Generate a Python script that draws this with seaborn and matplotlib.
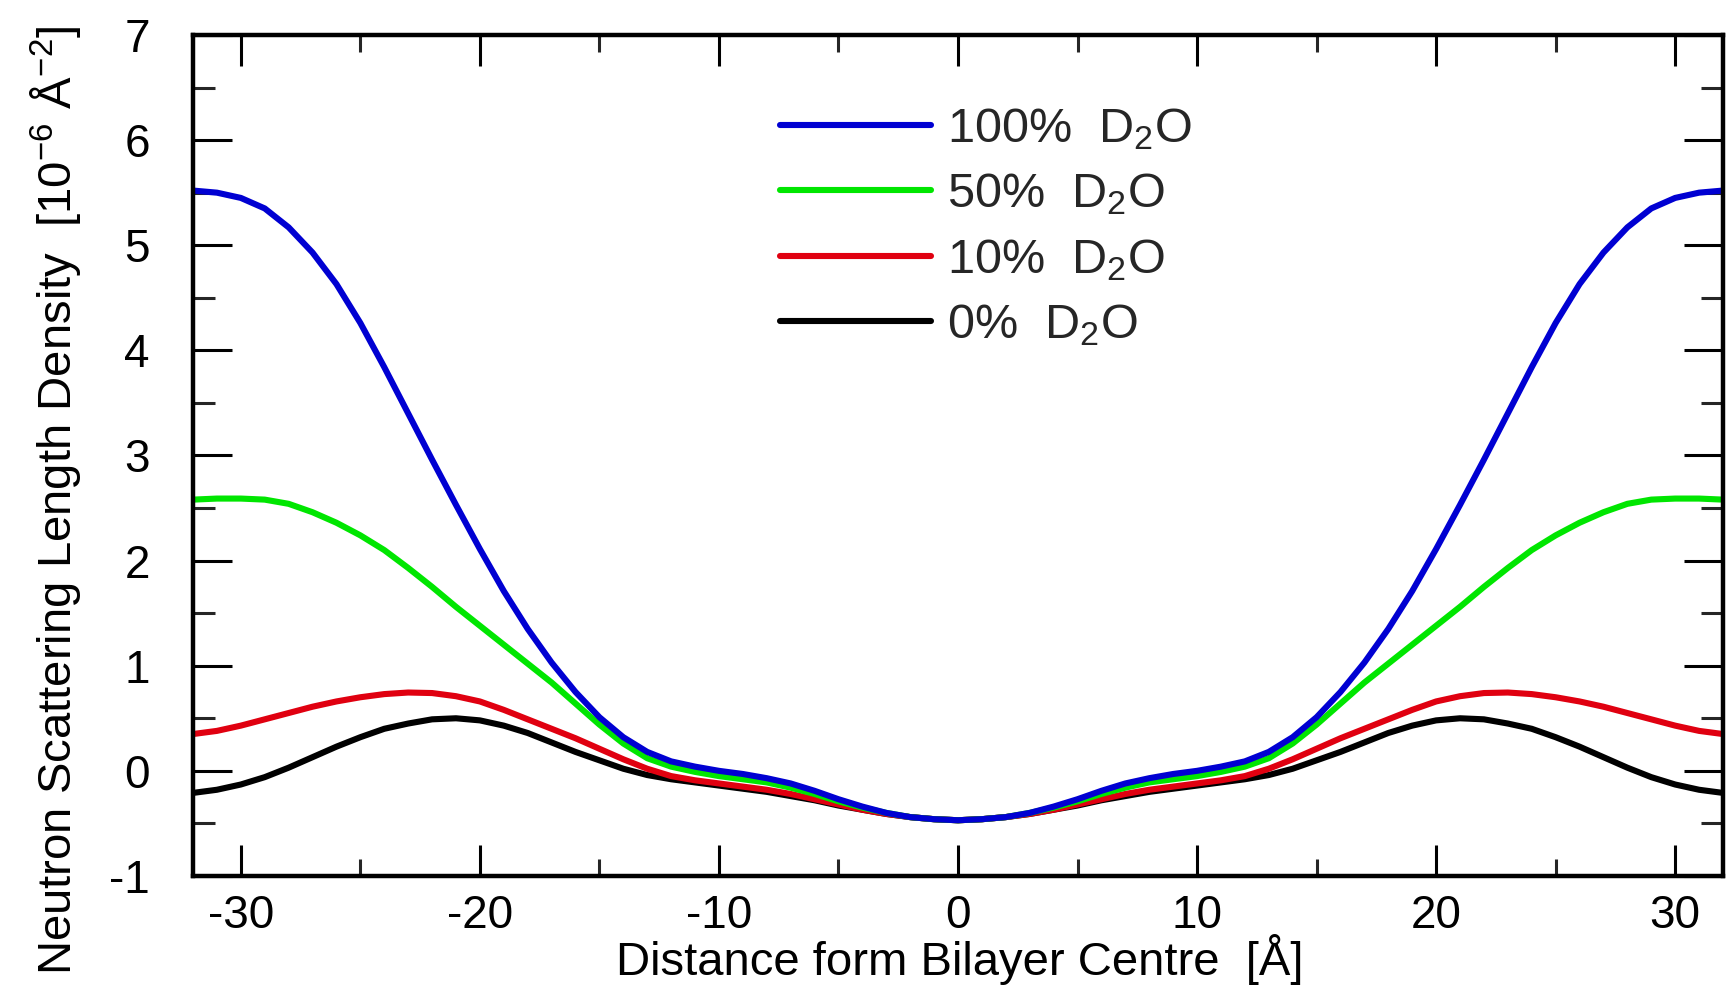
import numpy as np
import pandas as pd
import matplotlib
matplotlib.use("Agg")
import matplotlib.pyplot as plt
import seaborn as sns

# ---------------- data ----------------
distance = list(range(-32, 33))  # Å

sld_100 = [5.52, 5.50, 5.45, 5.35, 5.17, 4.93, 4.63, 4.26, 3.84, 3.40, 2.96,
           2.53, 2.11, 1.71, 1.35, 1.03, 0.75, 0.51, 0.32, 0.18, 0.09, 0.04,
           0.00, -0.03, -0.07, -0.12, -0.19, -0.27, -0.34, -0.40, -0.44, -0.46,
           -0.47,
           -0.46, -0.44, -0.40, -0.34, -0.27, -0.19, -0.12, -0.07, -0.03, 0.00,
           0.04, 0.09, 0.18, 0.32, 0.51, 0.75, 1.03, 1.35, 1.71, 2.11, 2.53,
           2.96, 3.40, 3.84, 4.26, 4.63, 4.93, 5.17, 5.35, 5.45, 5.50, 5.52]

sld_50 = [2.58, 2.59, 2.59, 2.58, 2.54, 2.46, 2.36, 2.24, 2.10, 1.93, 1.75,
          1.56, 1.38, 1.20, 1.02, 0.84, 0.64, 0.44, 0.26, 0.12, 0.04, -0.01,
          -0.05, -0.08, -0.11, -0.16, -0.22, -0.29, -0.35, -0.40, -0.44, -0.46,
          -0.47,
          -0.46, -0.44, -0.40, -0.35, -0.29, -0.22, -0.16, -0.11, -0.08, -0.05,
          -0.01, 0.04, 0.12, 0.26, 0.44, 0.64, 0.84, 1.02, 1.20, 1.38, 1.56,
          1.75, 1.93, 2.10, 2.24, 2.36, 2.46, 2.54, 2.58, 2.59, 2.59, 2.58]

sld_10 = [0.35, 0.38, 0.43, 0.49, 0.55, 0.61, 0.66, 0.70, 0.73, 0.745, 0.74,
          0.71, 0.66, 0.58, 0.49, 0.40, 0.31, 0.21, 0.11, 0.02, -0.05, -0.09,
          -0.12, -0.15, -0.18, -0.22, -0.27, -0.32, -0.37, -0.41, -0.44, -0.46,
          -0.47,
          -0.46, -0.44, -0.41, -0.37, -0.32, -0.27, -0.22, -0.18, -0.15, -0.12,
          -0.09, -0.05, 0.02, 0.11, 0.21, 0.31, 0.40, 0.49, 0.58, 0.66, 0.71,
          0.74, 0.745, 0.73, 0.70, 0.66, 0.61, 0.55, 0.49, 0.43, 0.38, 0.35]

sld_0 = [-0.21, -0.18, -0.13, -0.06, 0.03, 0.13, 0.23, 0.32, 0.40, 0.45, 0.49,
         0.50, 0.48, 0.43, 0.36, 0.27, 0.18, 0.10, 0.02, -0.04, -0.08, -0.11,
         -0.14, -0.17, -0.20, -0.24, -0.28, -0.33, -0.37, -0.41, -0.44, -0.46,
         -0.47,
         -0.46, -0.44, -0.41, -0.37, -0.33, -0.28, -0.24, -0.20, -0.17, -0.14,
         -0.11, -0.08, -0.04, 0.02, 0.10, 0.18, 0.27, 0.36, 0.43, 0.48, 0.50,
         0.49, 0.45, 0.40, 0.32, 0.23, 0.13, 0.03, -0.06, -0.13, -0.18, -0.21]

series_labels = ["100%  D$_2$O", "50%  D$_2$O", "10%  D$_2$O", "0%  D$_2$O"]
series_colors = ["#0000d2", "#00e600", "#e00010", "#000000"]
x_ticks = [-30, -20, -10, 0, 10, 20, 30]
y_ticks = [-1, 0, 1, 2, 3, 4, 5, 6, 7]

# ---------------- style ----------------
sns.set_theme(style="ticks")
plt.rcParams["font.family"] = ["Liberation Sans", "DejaVu Sans"]
plt.rcParams["mathtext.fontset"] = "custom"
plt.rcParams["mathtext.rm"] = "Liberation Sans"
plt.rcParams["mathtext.it"] = "Liberation Sans:italic"
plt.rcParams["mathtext.bf"] = "Liberation Sans:bold"
plt.rcParams["axes.unicode_minus"] = False

fig = plt.figure(figsize=(17.28, 9.88), dpi=100)
ax = fig.add_axes([0.1117, 0.1134, 0.8854, 0.8512])

all_series = [sld_100, sld_50, sld_10, sld_0]
# draw black first so blue ends on top
for vals, lab, col in reversed(list(zip(all_series, series_labels, series_colors))):
    sns.lineplot(x=distance, y=vals, color=col, lw=4.4, ax=ax, label=lab,
                 solid_capstyle="round", solid_joinstyle="round")

ax.set_xlim(-32, 32)
ax.set_ylim(-1, 7)
ax.set_xticks(x_ticks)
ax.set_yticks(y_ticks)
ax.set_xticks(np.arange(-25, 30, 10), minor=True)
ax.set_yticks(np.arange(-0.5, 7, 1.0), minor=True)
ax.set_xticklabels([str(v) for v in x_ticks])
ax.set_yticklabels([str(v) for v in y_ticks])

for s in ax.spines.values():
    s.set_linewidth(3.2)
    s.set_color("black")

ax.tick_params(axis="x", which="major", direction="in", length=22, width=2.2,
               top=True, bottom=True, labelsize=33, pad=13, colors="black")
ax.tick_params(axis="x", which="minor", direction="in", length=12, width=2.2,
               top=True, bottom=True)
ax.tick_params(axis="y", which="major", direction="in", length=28, width=2.2,
               left=True, right=True, labelsize=33, pad=31, colors="black")
ax.tick_params(axis="y", which="minor", direction="in", length=16, width=2.2,
               left=True, right=True)

ax.set_xlabel("Distance form Bilayer Centre  [Å]", fontsize=34, color="black")
ax.xaxis.set_label_coords(0.501, -0.0685)
ax.xaxis.label.set_va("top")

ax.set_ylabel("Neutron Scattering Length Density  [10$^{-6}$ Å$^{-2}$]",
              fontsize=34, color="black")
ax.yaxis.set_label_coords(-0.072, 0.447)

handles, labels = ax.get_legend_handles_labels()
order = [labels.index(l) for l in series_labels]
leg = ax.legend([handles[i] for i in order], [labels[i] for i in order],
                loc="upper left", bbox_to_anchor=(0.3837, 0.915),
                frameon=False, fontsize=35, handlelength=3.1,
                handletextpad=0.33, labelspacing=0.40, borderpad=0,
                borderaxespad=0)
for h in leg.get_lines():
    h.set_linewidth(4.4)

fig.savefig("out.png", dpi=100, facecolor="white")
